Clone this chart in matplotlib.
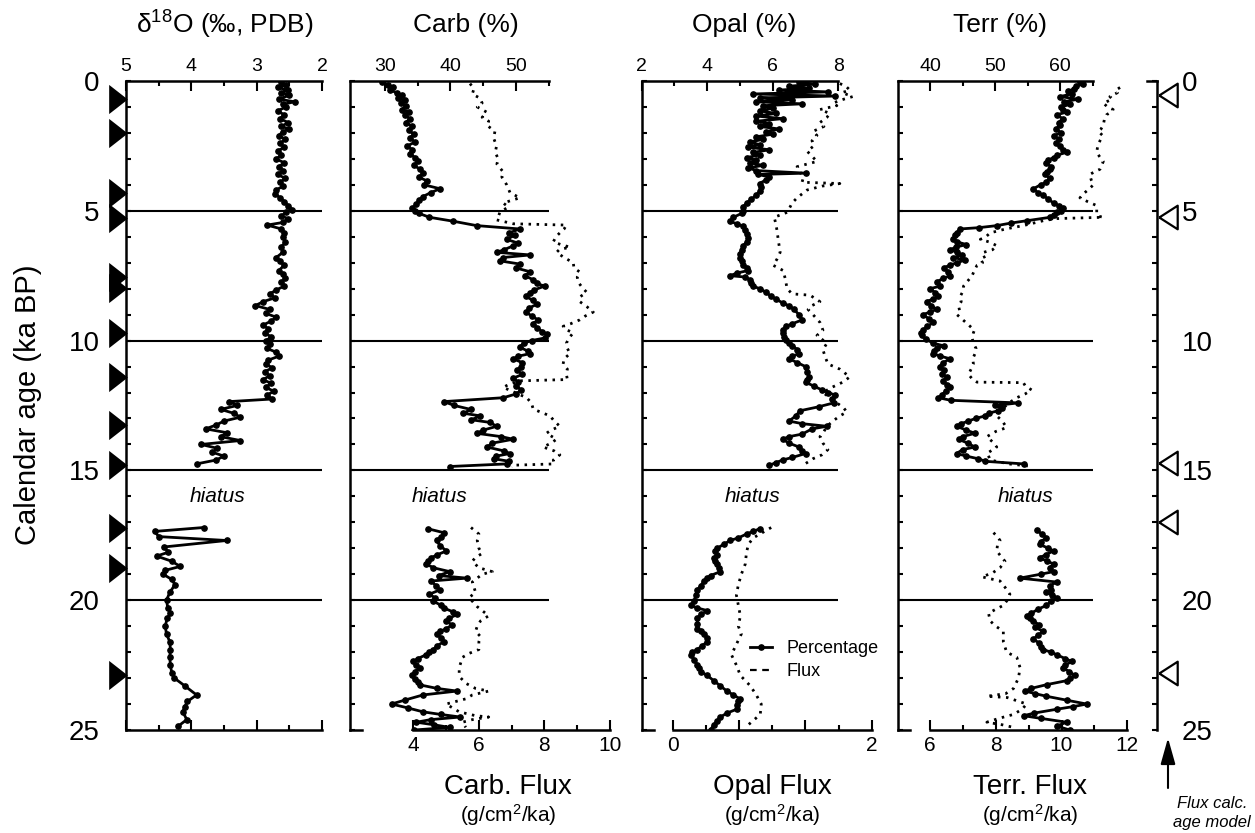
import numpy as np
import matplotlib
matplotlib.use('Agg')
import matplotlib.pyplot as plt
from matplotlib.lines import Line2D
from matplotlib.ticker import MultipleLocator, FixedLocator

plt.rcParams['font.family'] = ['Liberation Sans', 'DejaVu Sans']
plt.rcParams['mathtext.fontset'] = 'custom'
plt.rcParams['mathtext.rm'] = 'Liberation Sans'
plt.rcParams['mathtext.it'] = 'Liberation Sans:italic'
plt.rcParams['mathtext.bf'] = 'Liberation Sans:bold'

# ---------------- data (age ka BP, value) ----------------
d18o_age = [0.05,0.15,0.25,0.35,0.45,0.55,0.7,0.8,0.9,1.0,1.15,1.3,1.45,1.6,1.75,1.85,1.95,2.1,2.25,2.4,2.55,2.7,2.85,3.0,3.15,3.3,3.45,3.6,3.75,3.9,4.05,4.2,4.35,4.5,4.65,4.8,4.95,5.05,5.2,5.3,5.45,5.55,5.7,5.85,6.0,6.2,6.4,6.6,6.8,6.95,7.1,7.3,7.45,7.6,7.75,7.9,8.05,8.2,8.35,8.5,8.65,8.8,8.95,9.1,9.25,9.4,9.55,9.7,9.85,10.0,10.15,10.3,10.45,10.6,10.75,10.9,11.05,11.2,11.35,11.5,11.65,11.8,11.95,12.1,12.25,12.35,12.5,12.65,12.8,12.95,13.1,13.25,13.4,13.55,13.7,13.85,14.0,14.15,14.3,14.45,14.6,14.75,
            17.2,17.35,17.55,17.7,17.95,18.15,18.3,18.5,18.7,18.85,19.0,19.2,19.4,19.7,20.0,20.3,20.5,20.7,21.0,21.3,21.6,21.9,22.2,22.5,22.8,23.0,23.3,23.65,23.9,24.1,24.3,24.6,24.85]
d18o_val = [2.62,2.55,2.68,2.52,2.63,2.50,2.66,2.42,2.6,2.55,2.68,2.58,2.64,2.52,2.62,2.5,2.6,2.66,2.56,2.64,2.58,2.68,2.62,2.7,2.58,2.66,2.6,2.68,2.56,2.64,2.6,2.7,2.72,2.64,2.58,2.52,2.46,2.55,2.62,2.52,2.6,2.84,2.62,2.58,2.6,2.56,2.62,2.6,2.7,2.64,2.58,2.66,2.6,2.56,2.62,2.58,2.7,2.8,2.72,2.9,3.02,2.8,2.86,2.7,2.78,2.9,2.82,2.88,2.78,2.85,2.8,2.84,2.7,2.66,2.82,2.86,2.76,2.88,2.8,2.9,2.78,2.86,2.74,2.84,2.76,3.42,3.3,3.55,3.35,3.25,3.5,3.62,3.78,3.45,3.55,3.25,3.85,3.6,3.68,3.5,3.62,3.92,
            3.81,4.56,4.5,3.46,4.42,4.35,4.53,4.3,4.17,4.4,4.43,4.3,4.25,4.33,4.38,4.36,4.32,4.37,4.4,4.38,4.33,4.32,4.33,4.32,4.3,4.26,4.1,3.92,4.06,4.1,4.13,4.07,4.2]

carb_pct_age = [0.05,0.15,0.25,0.35,0.45,0.55,0.65,0.75,0.85,0.95,1.1,1.2,1.3,1.45,1.6,1.75,1.9,2.05,2.2,2.35,2.5,2.65,2.8,2.95,3.1,3.25,3.4,3.55,3.7,3.85,4.0,4.15,4.3,4.45,4.6,4.75,4.9,5.0,5.1,5.25,5.4,5.57,5.7,5.85,5.95,6.1,6.25,6.35,6.5,6.6,6.7,6.8,6.93,7.05,7.2,7.35,7.5,7.65,7.8,7.9,8.05,8.15,8.3,8.45,8.6,8.75,8.9,9.05,9.2,9.35,9.5,9.65,9.75,9.9,10.0,10.1,10.25,10.4,10.5,10.6,10.7,10.85,11.0,11.15,11.3,11.45,11.6,11.75,11.9,12.05,12.2,12.35,12.5,12.65,12.8,12.9,13.05,13.15,13.3,13.45,13.57,13.7,13.8,13.95,14.1,14.25,14.35,14.45,14.55,14.65,14.75,14.85,
                17.25,17.4,17.55,17.7,17.9,18.1,18.25,18.36,18.5,18.6,18.75,18.9,19.05,19.15,19.26,19.45,19.6,19.77,19.9,20.04,20.2,20.3,20.45,20.55,20.7,20.8,20.95,21.1,21.2,21.3,21.45,21.6,21.75,21.9,22.0,22.1,22.25,22.36,22.5,22.6,22.75,22.9,23.05,23.15,23.26,23.4,23.5,23.65,23.85,24.0,24.15,24.3,24.4,24.5,24.6,24.7,24.8,24.9,25.0]
carb_pct_val = [29.5,30.5,31.2,30.8,31.8,32.6,32.0,33.0,32.4,33.2,32.6,33.6,33.0,33.8,33.2,34.2,33.6,34.4,33.8,34.6,33.4,34.2,33.8,34.6,35.0,34.4,35.4,35.8,35.2,36.4,36.0,38.4,37.0,35.8,35.2,34.8,34.2,34.6,35.2,36.8,40.4,44.0,50.6,49.0,49.8,48.6,50.4,49.6,48.2,47.1,52.2,48.0,47.6,50.6,50.0,52.2,51.4,52.6,53.2,54.4,52.8,52.2,51.6,52.6,53.2,52.0,51.6,52.4,53.4,52.6,53.2,54.0,54.8,54.4,52.4,51.2,50.6,51.8,52.2,50.4,49.6,51.0,50.8,50.2,51.0,49.6,50.4,50.1,50.8,50.1,48.1,39.0,40.6,43.1,42.0,44.6,43.2,46.0,47.1,45.0,44.0,47.8,49.6,46.4,45.6,48.2,49.1,47.0,46.6,49.0,48.6,39.9,
                36.6,39.0,38.6,37.9,38.4,39.4,38.0,37.1,36.6,36.3,37.4,39.9,38.2,42.5,37.1,37.8,38.4,36.8,37.6,37.4,38.6,39.0,40.4,41.0,39.8,39.4,40.2,39.4,38.4,37.9,38.6,39.0,38.0,37.4,36.8,36.3,35.0,34.3,34.8,35.3,34.6,34.1,34.6,35.0,35.3,38.0,41.0,35.8,33.0,31.0,33.5,35.8,38.5,41.5,37.0,34.8,37.5,39.9,34.5]

carb_flux_age = [0.1,0.3,0.5,0.66,0.85,1.0,1.2,1.4,1.55,1.7,1.94,2.2,2.5,2.75,3.0,3.2,3.5,3.7,4.0,4.15,4.3,4.5,4.7,4.85,5.06,5.2,5.35,5.5,5.55,5.7,5.85,6.0,6.2,6.3,6.4,6.5,6.6,6.8,7.0,7.2,7.36,7.55,7.75,7.95,8.14,8.3,8.5,8.7,8.9,9.05,9.2,9.35,9.45,9.6,9.7,9.9,10.1,10.3,10.5,10.7,10.9,11.1,11.3,11.5,11.55,11.7,11.8,12.0,12.2,12.4,12.64,12.9,13.1,13.3,13.45,13.57,13.8,13.95,14.1,14.25,14.4,14.6,14.75,14.8,14.87,
                 17.2,17.45,17.7,18.0,18.2,18.35,18.5,18.75,18.9,19.0,19.15,19.3,19.5,19.7,19.9,20.04,20.25,20.4,20.6,20.8,21.0,21.2,21.4,21.6,21.9,22.05,22.2,22.4,22.6,22.8,23.0,23.2,23.4,23.5,23.65,23.8,24.0,24.15,24.3,24.45,24.5,24.6,24.7,24.9]
carb_flux_val = [5.73,5.85,5.8,6.03,6.1,5.95,6.24,6.1,6.3,6.24,6.49,6.45,6.54,6.5,6.59,6.55,6.74,6.7,6.85,6.9,6.95,7.25,6.74,6.9,6.64,6.6,6.54,7.05,8.67,8.6,8.47,8.35,8.27,8.5,8.78,8.45,8.37,8.6,8.88,8.9,9.08,9.0,9.03,9.15,9.29,9.1,9.08,9.3,9.49,9.25,9.08,8.8,8.57,8.7,8.88,8.75,8.67,8.7,8.78,8.6,8.57,8.7,8.67,8.7,7.25,6.9,6.74,7.1,7.46,7.6,7.66,8.17,8.3,8.47,8.2,8.06,8.37,8.2,7.96,8.3,8.47,8.27,8.3,7.05,7.0,
                 5.76,6.0,5.95,6.0,6.1,5.9,5.8,6.0,6.41,6.1,5.95,5.8,5.85,5.9,5.7,5.8,5.95,6.1,6.3,6.05,5.95,5.9,6.05,6.0,6.0,5.7,5.5,5.45,5.4,5.4,5.45,5.6,5.9,6.3,5.8,5.6,5.0,5.2,5.4,5.9,6.3,5.8,5.5,5.6]

opal_pct_age = [0.05,0.12,0.2,0.28,0.35,0.42,0.5,0.58,0.65,0.72,0.8,0.88,0.95,1.05,1.15,1.25,1.35,1.45,1.55,1.65,1.75,1.85,1.95,2.05,2.15,2.25,2.35,2.45,2.55,2.65,2.75,2.85,2.95,3.05,3.15,3.25,3.35,3.45,3.55,3.6,3.7,3.8,3.95,4.1,4.25,4.4,4.55,4.7,4.85,5.0,5.1,5.25,5.4,5.5,5.6,5.75,5.9,6.05,6.2,6.35,6.5,6.65,6.8,6.95,7.1,7.2,7.3,7.4,7.5,7.55,7.65,7.8,7.9,8.0,8.14,8.3,8.4,8.55,8.66,8.8,9.0,9.2,9.35,9.45,9.6,9.7,9.85,9.96,10.1,10.2,10.35,10.5,10.6,10.7,10.85,11.0,11.2,11.4,11.5,11.6,11.75,11.9,12.0,12.1,12.25,12.4,12.55,12.7,12.9,13.1,13.2,13.3,13.4,13.6,13.7,13.8,13.95,14.1,14.25,14.35,14.5,14.6,14.7,14.8,
                17.25,17.35,17.45,17.6,17.7,17.85,18.0,18.1,18.25,18.36,18.5,18.6,18.75,18.9,19.05,19.15,19.26,19.45,19.6,19.8,20.04,20.2,20.3,20.4,20.55,20.7,20.9,21.1,21.2,21.3,21.45,21.6,21.75,21.9,22.0,22.1,22.3,22.5,22.6,22.75,22.9,23.1,23.3,23.5,23.65,23.8,23.9,24.05,24.2,24.35,24.5,24.65,24.8,25.0]
opal_pct_val = [6.8,7.3,6.5,7.1,6.2,7.7,5.4,7.9,5.6,6.6,5.5,6.9,5.7,6.0,5.6,6.1,5.5,6.3,5.5,5.9,5.6,6.2,5.8,6.0,5.5,5.7,5.3,5.6,5.25,5.9,5.4,5.6,5.2,5.5,5.3,5.7,5.25,5.5,7.0,5.56,5.9,5.8,5.6,5.65,5.6,5.5,5.35,5.2,5.1,5.1,5.05,4.8,4.7,4.9,5.1,5.15,5.2,5.25,5.2,5.1,5.05,5.0,5.0,5.05,5.1,5.2,5.25,4.9,4.7,5.15,5.3,5.35,5.4,5.6,5.8,5.95,6.1,6.3,6.5,6.65,6.8,6.9,6.6,6.4,6.3,6.3,6.35,6.4,6.5,6.6,6.75,6.8,6.6,6.5,6.75,7.0,7.05,7.1,7.05,7.0,7.25,7.5,7.7,7.9,7.8,7.86,7.4,6.84,6.7,6.5,6.9,7.65,7.2,6.9,6.5,6.3,6.5,6.8,6.9,7.0,6.6,6.3,6.1,5.9,
                5.6,5.4,5.2,4.95,4.7,4.5,4.3,4.25,4.3,4.2,4.25,4.3,4.35,4.4,4.1,4.0,3.9,3.8,3.7,3.65,3.6,3.5,3.7,4.0,3.8,3.7,3.7,3.7,3.8,3.9,4.0,4.0,3.85,3.7,3.55,3.5,3.6,3.7,3.75,3.8,4.0,4.2,4.4,4.6,4.8,5.0,4.95,4.9,4.9,4.6,4.4,4.3,4.2,4.1]

opal_flux_age = [0.1,0.2,0.35,0.45,0.6,0.7,0.85,0.95,1.1,1.25,1.4,1.6,1.75,1.94,2.1,2.3,2.5,2.7,2.9,3.1,3.3,3.5,3.76,3.9,3.95,4.05,4.2,4.35,4.5,4.7,4.85,5.06,5.25,5.4,5.57,5.8,6.1,6.35,6.6,6.85,7.1,7.3,7.6,8.0,8.2,8.25,8.5,8.65,8.8,9.0,9.3,9.6,9.8,10.1,10.35,10.6,10.9,11.1,11.4,11.6,11.8,12.0,12.2,12.4,12.6,12.75,12.9,13.1,13.3,13.5,13.7,13.95,14.2,14.4,14.55,14.7,14.8,
                 17.2,17.4,17.6,17.85,18.2,18.6,19.0,19.4,19.8,20.2,20.6,21.0,21.3,21.7,22.1,22.5,22.9,23.3,23.65,24.0,24.4,24.7,24.9]
opal_flux_val = [1.68,1.74,1.78,1.7,1.81,1.72,1.61,1.65,1.48,1.58,1.55,1.48,1.52,1.41,1.45,1.4,1.42,1.35,1.4,1.45,1.25,1.28,1.31,1.3,1.68,1.5,1.35,1.3,1.25,1.2,1.18,1.15,1.02,1.03,1.04,1.05,1.06,1.07,1.08,1.05,1.01,1.11,1.13,1.15,1.2,1.38,1.48,1.4,1.36,1.41,1.48,1.51,1.45,1.55,1.51,1.53,1.56,1.68,1.78,1.71,1.6,1.51,1.58,1.65,1.72,1.75,1.68,1.61,1.55,1.52,1.48,1.51,1.56,1.5,1.41,1.35,1.31,
                 0.99,0.9,0.81,0.76,0.74,0.73,0.69,0.66,0.64,0.66,0.68,0.66,0.69,0.64,0.59,0.64,0.68,0.78,0.84,0.89,0.88,0.79,0.73]

terr_pct_age = [0.05,0.12,0.2,0.3,0.4,0.5,0.6,0.7,0.8,0.9,1.0,1.1,1.2,1.3,1.45,1.6,1.7,1.85,2.0,2.1,2.25,2.4,2.5,2.65,2.75,2.85,2.95,3.05,3.15,3.3,3.4,3.5,3.6,3.75,3.9,4.0,4.15,4.3,4.4,4.55,4.7,4.8,4.9,5.0,5.06,5.15,5.25,5.38,5.47,5.57,5.65,5.7,5.85,5.95,6.1,6.2,6.3,6.4,6.5,6.6,6.7,6.8,6.9,7.0,7.1,7.2,7.35,7.5,7.6,7.75,7.9,8.0,8.15,8.3,8.4,8.5,8.65,8.8,8.9,9.0,9.15,9.3,9.45,9.6,9.7,9.8,9.95,10.1,10.2,10.3,10.4,10.5,10.6,10.7,10.85,11.0,11.15,11.3,11.4,11.55,11.7,11.8,11.95,12.1,12.2,12.3,12.4,12.5,12.6,12.7,12.8,12.9,13.0,13.1,13.2,13.3,13.45,13.57,13.7,13.8,13.95,14.1,14.2,14.35,14.45,14.55,14.65,14.75,
                17.3,17.45,17.6,17.75,17.85,18.0,18.1,18.25,18.36,18.5,18.6,18.75,18.9,19.0,19.15,19.3,19.45,19.6,19.7,19.8,19.9,20.05,20.2,20.35,20.5,20.6,20.7,20.8,20.95,21.05,21.2,21.35,21.5,21.65,21.8,21.9,22.0,22.1,22.25,22.36,22.5,22.6,22.75,22.9,23.0,23.1,23.25,23.4,23.5,23.6,23.7,23.85,24.0,24.1,24.2,24.35,24.45,24.55,24.7,24.85,25.0]
terr_pct_val = [63.0,63.6,62.4,62.2,61.2,61.8,60.0,62.8,60.6,61.5,60.2,60.5,61.0,59.5,60.4,59.8,60.0,59.4,60.2,59.0,59.8,59.4,60.0,60.4,61.0,59.6,59.0,58.2,57.9,58.6,58.5,58.0,57.7,58.4,57.9,57.0,55.9,56.6,57.4,58.2,59.0,59.8,60.5,60.2,59.5,59.0,58.5,54.9,52.5,50.3,47.5,44.6,44.1,43.8,43.6,44.2,45.6,44.0,43.1,44.2,44.9,43.6,45.4,44.1,43.0,42.1,42.8,43.1,42.0,41.0,41.6,40.0,40.8,41.3,40.4,39.5,40.2,41.0,40.0,38.9,39.8,40.5,39.6,38.9,38.6,38.7,39.4,40.5,42.1,41.0,40.6,40.5,41.6,43.1,42.0,41.5,42.2,41.8,42.6,42.0,42.6,43.1,42.4,41.8,41.3,43.2,53.6,50.0,51.0,50.5,49.0,48.5,47.0,45.9,44.8,44.1,45.6,46.9,45.0,44.4,45.8,46.9,45.0,44.1,45.6,47.4,48.5,54.4,
                56.4,57.2,57.9,57.0,56.9,58.2,59.0,57.8,56.9,58.0,59.0,58.4,59.0,57.0,53.8,59.5,58.4,58.6,57.9,58.8,59.5,58.6,57.9,56.6,55.6,54.9,55.4,55.9,56.8,56.2,57.4,56.6,55.9,56.8,57.0,57.4,58.6,59.5,60.8,61.8,60.8,60.5,61.4,62.3,61.6,61.0,58.0,55.5,54.6,56.2,57.9,61.0,64.1,62.0,59.5,56.0,54.4,57.0,61.0,59.5,61.5]

terr_flux_age = [0.25,0.35,0.45,0.6,0.7,0.85,1.0,1.1,1.2,1.3,1.5,1.7,1.85,1.94,2.1,2.3,2.5,2.75,2.9,3.1,3.25,3.4,3.5,3.6,3.8,4.0,4.2,4.35,4.5,4.65,4.8,5.06,5.2,5.25,5.3,5.38,5.57,5.7,5.85,6.0,6.1,6.2,6.35,6.5,6.6,6.75,6.85,7.0,7.1,7.3,7.5,7.7,7.9,8.1,8.3,8.5,8.66,8.85,9.0,9.2,9.45,9.6,9.7,9.9,10.1,10.3,10.5,10.7,10.9,11.1,11.3,11.5,11.6,11.62,11.75,11.9,12.05,12.2,12.4,12.6,12.75,12.9,13.1,13.35,13.5,13.7,13.9,14.1,14.25,14.35,14.5,14.6,14.75,14.85,
                 17.4,17.55,17.7,17.9,18.1,18.3,18.5,18.75,18.95,19.1,19.26,19.5,19.77,20.0,20.2,20.35,20.5,20.8,21.0,21.2,21.6,22.0,22.2,22.6,23.0,23.4,23.6,23.7,23.75,24.0,24.2,24.4,24.55,24.7,24.8,24.9]
terr_flux_val = [11.78,11.65,11.7,11.47,11.55,11.27,11.4,11.57,11.5,11.37,11.3,11.27,11.2,11.12,11.25,11.17,11.1,11.07,11.15,11.27,11.22,11.17,11.0,10.86,10.9,10.97,10.8,10.66,10.56,10.8,11.07,11.07,11.1,11.27,9.85,9.45,8.84,8.3,7.83,7.7,7.53,7.8,8.04,7.9,7.63,7.7,7.53,7.6,7.43,7.35,7.28,7.15,7.02,7.0,6.92,6.95,6.87,6.9,6.82,7.0,7.22,7.35,7.32,7.28,7.32,7.4,7.37,7.3,7.32,7.25,7.17,7.3,7.43,8.84,8.9,9.09,8.9,8.64,8.4,8.23,8.1,8.03,8.2,8.33,8.0,7.73,7.9,8.03,7.85,7.73,7.8,7.83,8.4,9.14,
                 7.93,8.05,8.13,8.05,8.03,8.15,8.28,8.13,7.9,7.58,8.13,8.28,8.43,8.35,8.23,8.0,7.78,7.83,8.0,8.23,8.23,8.33,8.64,8.74,8.69,8.54,8.3,7.73,8.35,8.94,8.8,8.54,8.1,7.73,8.2,8.54]

age_model_ages = [0.7, 2.0, 4.3, 5.28, 7.55, 7.97, 9.7, 11.4, 13.25, 14.8, 17.2, 18.76, 22.9]
flux_model_ages = [0.54, 5.24, 14.7, 17.0, 22.8]
boundary_ages = [5, 10, 15, 20]

# ---------------- layout helpers ----------------
W, H = 1255, 833
fig = plt.figure(figsize=(W / 100, H / 100), dpi=100)
Y0, Y1 = 81, 730


def px_axes(x0, x1):
    return fig.add_axes([x0 / W, 1 - Y1 / H, (x1 - x0) / W, (Y1 - Y0) / H])


def fx(px):
    return px / W


def fy(py):
    return 1 - py / H


LW_SP = 1.8
SOLID = dict(color='k', lw=2.0, marker='o', ms=3.8, mec='k', mfc='k', solid_joinstyle='round')
DOT = dict(color='k', lw=2.0, ls=(0, (0.9, 2.0)), dash_capstyle='butt')


def segments(ages, vals):
    a = np.asarray(ages, float)
    v = np.asarray(vals, float)
    m = a < 16
    return [(a[m], v[m]), (a[~m], v[~m])]


def style_left(ax):
    ax.set_ylim(25, 0)
    ax.yaxis.set_major_locator(MultipleLocator(5))
    ax.yaxis.set_minor_locator(MultipleLocator(1))
    ax.tick_params(axis='y', which='both', direction='in', length=3.5, width=1.5, left=True, right=False)
    ax.spines['left'].set_linewidth(LW_SP)


def setup_top(axt, lim, bounds, majors, minors, labels):
    axt.set_xlim(*lim)
    axt.spines['top'].set_bounds(*bounds)
    axt.spines['top'].set_linewidth(LW_SP)
    for s in ('left', 'right', 'bottom'):
        axt.spines[s].set_visible(False)
    axt.xaxis.set_major_locator(FixedLocator(majors))
    axt.xaxis.set_minor_locator(FixedLocator(minors))
    axt.set_xticklabels(labels)
    axt.tick_params(axis='x', which='major', direction='in', length=7, width=1.5, labelsize=14, pad=4)
    axt.tick_params(axis='x', which='minor', direction='in', length=3.5, width=1.5)


def setup_bottom(ax, x0px, x1px, lim, bounds, majors, minors, labels):
    ax.set_xlim(*lim)
    ax.spines['bottom'].set_bounds(*bounds)
    ax.spines['bottom'].set_linewidth(LW_SP)
    ax.spines['top'].set_visible(False)
    ax.spines['right'].set_visible(False)
    ax.xaxis.set_major_locator(FixedLocator(majors))
    ax.xaxis.set_minor_locator(FixedLocator(minors))
    ax.set_xticklabels(labels)
    ax.tick_params(axis='x', which='major', direction='in', length=7, width=1.5, labelsize=15, pad=4)
    ax.tick_params(axis='x', which='minor', direction='in', length=3.5, width=1.5)
    # short corner stub at the bottom of the left spine
    ax.add_line(Line2D([0, 12 / (x1px - x0px)], [0, 0], transform=ax.transAxes,
                       color='k', lw=LW_SP, clip_on=False, solid_capstyle='projecting'))


# ---------------- panel 1 : d18O ----------------
ax1 = px_axes(126, 322)
style_left(ax1)
ax1.set_xlim(5, 2)
ax1.xaxis.set_major_locator(FixedLocator([5, 4, 3, 2]))
ax1.xaxis.set_minor_locator(FixedLocator([4.5, 3.5, 2.5]))
ax1.tick_params(axis='x', which='both', top=True, bottom=True, labeltop=True, labelbottom=False, direction='in', width=1.5)
ax1.tick_params(axis='x', which='major', length=7, labelsize=14, pad=4)
ax1.tick_params(axis='x', which='minor', length=3.5)
ax1.spines['right'].set_visible(False)
for s in ('top', 'bottom', 'left'):
    ax1.spines[s].set_linewidth(LW_SP)
ax1.set_yticks([0, 5, 10, 15, 20, 25])
ax1.set_yticklabels(['0', '5', '10', '15', '20', '25'])
ax1.tick_params(axis='y', labelsize=20, pad=19)
for a, v in segments(d18o_age, d18o_val):
    ax1.plot(v, a, **SOLID)
ax1.hlines(boundary_ages, 5, 2, color='k', lw=1.5)
tri_r = [(-0.64, -1), (0.64, 0), (-0.64, 1), (-0.64, -1)]
ax1.plot([5.13] * len(age_model_ages), age_model_ages, ls='none', marker=tri_r, ms=21,
         mfc='k', mec='k', mew=0, clip_on=False, zorder=5)
ax1.text(3.6, 16.0, 'hiatus', style='italic', fontsize=15, ha='center', va='center')

# ---------------- panel 2 : Carb ----------------
ax2 = px_axes(350, 610)
style_left(ax2)
ax2.set_yticklabels([])
setup_bottom(ax2, 350, 610, (2.069, 10), (4, 10), [4, 6, 8, 10], [5, 7, 9], ['4', '6', '8', '10'])
ax2t = ax2.twiny()
ax2t.set_ylim(25, 0)
setup_top(ax2t, (24.65, 64.4), (24.65, 55), [30, 40, 50], [35, 45, 55], ['30', '40', '50'])
for a, v in segments(carb_flux_age, carb_flux_val):
    ax2.plot(v, a, **DOT)
for a, v in segments(carb_pct_age, carb_pct_val):
    ax2t.plot(v, a, **SOLID)
ax2t.hlines(boundary_ages, 24.65, 55, color='k', lw=1.5)
ax2t.text(38.3, 16.0, 'hiatus', style='italic', fontsize=15, ha='center', va='center')

# ---------------- panel 3 : Opal ----------------
ax3 = px_axes(641.7, 871.7)
style_left(ax3)
ax3.set_yticklabels([])
setup_bottom(ax3, 641.7, 871.7, (-0.3116, 2), (0, 2), [0, 2 / 3, 4 / 3, 2], [1 / 3, 1, 5 / 3], ['0', '', '', '2'])
ax3t = ax3.twiny()
ax3t.set_ylim(25, 0)
setup_top(ax3t, (2, 9.02), (2, 8), [2, 4, 6, 8], [3, 5, 7], ['2', '4', '6', '8'])
for a, v in segments(opal_flux_age, opal_flux_val):
    ax3.plot(v, a, **DOT)
for a, v in segments(opal_pct_age, opal_pct_val):
    ax3t.plot(v, a, **SOLID)
ax3t.hlines(boundary_ages, 2, 8, color='k', lw=1.5)
ax3t.text(5.38, 16.0, 'hiatus', style='italic', fontsize=15, ha='center', va='center')

h_pct = Line2D([], [], color='k', lw=2.0, marker='o', ms=3.8)
h_flux = Line2D([], [], color='k', lw=1.6, ls=(0, (3, 2.5)))
ax3.legend([h_pct, h_flux], ['Percentage', 'Flux'],
           loc='center left', bbox_to_anchor=(fx(750), fy(660)), bbox_transform=fig.transFigure,
           frameon=False, fontsize=13, handlelength=1.2, handletextpad=0.8, borderpad=0,
           borderaxespad=0, labelspacing=0.35)

# ---------------- panel 4 : Terr ----------------
ax4 = px_axes(897.7, 1127.3)
style_left(ax4)
ax4.set_yticklabels([])
setup_bottom(ax4, 897.7, 1127.3, (5.018, 12), (6, 12), [6, 8, 10, 12], [7, 9, 11], ['6', '8', '10', '12'])
ax4t = ax4.twiny()
ax4t.set_ylim(25, 0)
setup_top(ax4t, (35.03, 70.35), (35.03, 65), [40, 50, 60], [45, 55, 65], ['40', '50', '60'])
for a, v in segments(terr_flux_age, terr_flux_val):
    ax4.plot(v, a, **DOT)
for a, v in segments(terr_pct_age, terr_pct_val):
    ax4t.plot(v, a, **SOLID)
ax4t.hlines(boundary_ages, 35.03, 65, color='k', lw=1.5)
ax4t.text(54.7, 16.0, 'hiatus', style='italic', fontsize=15, ha='center', va='center')

# ---------------- right age axis ----------------
axr = px_axes(1147, 1157)
axr.set_xlim(0, 1)
axr.set_ylim(25, 0)
axr.patch.set_visible(False)
for s in ('left', 'bottom'):
    axr.spines[s].set_visible(False)
axr.spines['right'].set_linewidth(LW_SP)
axr.spines['top'].set_linewidth(LW_SP)
axr.set_xticks([])
axr.yaxis.tick_right()
axr.yaxis.set_major_locator(FixedLocator([0, 5, 10, 15, 20, 25]))
axr.yaxis.set_minor_locator(MultipleLocator(1))
axr.set_yticklabels(['0', '5', '10', '15', '20', '25'])
axr.tick_params(axis='y', which='both', direction='in', length=3.5, width=1.5, labelsize=20, pad=18)
tri_l = [(-0.78, 0), (0.78, 1), (0.78, -1), (-0.78, 0)]
axr.plot([2.1] * len(flux_model_ages), flux_model_ages, ls='none', marker=tri_l, ms=17,
         mfc='white', mec='k', mew=1.6, clip_on=False, zorder=5)
axr.annotate('', xy=(1168, H - 738), xytext=(1168, H - 788), xycoords='figure pixels',
             textcoords='figure pixels',
             arrowprops=dict(arrowstyle='-|>,head_length=1.6,head_width=0.45', color='k', lw=1.5,
                             shrinkA=0, shrinkB=0, mutation_scale=10))

# ---------------- texts ----------------
fig.text(fx(225), fy(25), r'δ$^{18}$O (‰, PDB)', fontsize=19, ha='center', va='center')
fig.text(fx(466), fy(25), 'Carb (%)', fontsize=19, ha='center', va='center')
fig.text(fx(744), fy(25), 'Opal (%)', fontsize=19, ha='center', va='center')
fig.text(fx(1000), fy(25), 'Terr (%)', fontsize=19, ha='center', va='center')
fig.text(fx(28), fy(405), 'Calendar age (ka BP)', fontsize=21, rotation=90, ha='center', va='center')

for cx, lab in [(508, 'Carb. Flux'), (772, 'Opal Flux'), (1030, 'Terr. Flux')]:
    fig.text(fx(cx), fy(787), lab, fontsize=20, ha='center', va='center')
    fig.text(fx(cx), fy(815), r'(g/cm$^{2}$/ka)', fontsize=15, ha='center', va='center')

fig.text(fx(1212), fy(803), 'Flux calc.', fontsize=12, style='italic', ha='center', va='center')
fig.text(fx(1212), fy(823), 'age model', fontsize=12, style='italic', ha='center', va='center')

fig.savefig('out.png', dpi=100)
